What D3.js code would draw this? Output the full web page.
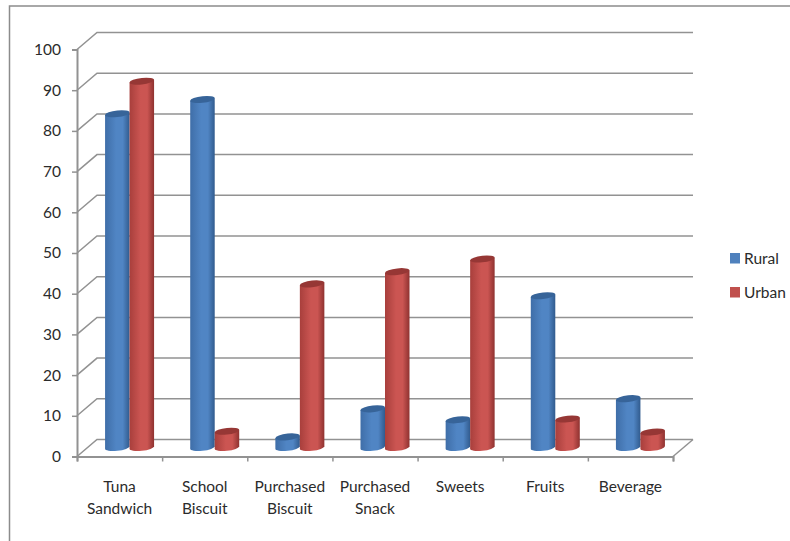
<!DOCTYPE html>
<html>
<head>
<meta charset="utf-8">
<script src="https://cdn.jsdelivr.net/npm/d3@7"></script>
<style>
    html, body { margin: 0; padding: 0; background: #fff; }
    svg { display: block; }
    text { font-family: Lato, "Open Sans", sans-serif; fill: #2b2b2b; }
</style>
</head>
<body>
<svg id="chart" width="790" height="541"></svg>
<script>
const categories = [
    ["Tuna", "Sandwich"],
    ["School", "Biscuit"],
    ["Purchased", "Biscuit"],
    ["Purchased", "Snack"],
    ["Sweets"],
    ["Fruits"],
    ["Beverage"]
];
const rural = [82, 85.5, 2.6, 9.5, 6.8, 37.3, 12];
const urban = [90, 4, 40.2, 43.2, 46.3, 7, 3.8];
const yTicks = d3.range(0, 101, 10);
const seriesNames = ["Rural", "Urban"];

const svg = d3.select("#chart");
const gridColor = "#929292";
const depthX = 20, depthY = 17;

const xScale = d3.scaleBand().domain(d3.range(categories.length)).range([77, 673]);
const yScale = d3.scaleLinear().domain([0, 100]).range([456.5, 49.5]);

// outer border, open on the right and bottom
svg.append("path")
    .attr("d", "M790,6H9.5V541")
    .attr("fill", "none")
    .attr("stroke", "#8c8c8c")
    .attr("stroke-width", 1.5);

// horizontal gradients give the bars their round look
const defs = svg.append("defs");
function addGradient(id, edgeL, mid, edgeR) {
    const g = defs.append("linearGradient").attr("id", id);
    g.append("stop").attr("offset", "0%").attr("stop-color", edgeL);
    g.append("stop").attr("offset", "45%").attr("stop-color", mid);
    g.append("stop").attr("offset", "72%").attr("stop-color", mid);
    g.append("stop").attr("offset", "100%").attr("stop-color", edgeR);
}
addGradient("grad-rural", "#3f6ea8", "#5085c4", "#315b8e");
addGradient("grad-urban", "#a83f3c", "#cb5552", "#8f3230");

// back wall gridlines and their diagonals on the side wall
const grid = svg.append("g")
    .attr("fill", "none")
    .attr("stroke", gridColor)
    .attr("stroke-width", 1.5);

yTicks.forEach(t => {
    const y = yScale(t);
    const x0 = xScale.range()[0];
    const x1 = xScale.range()[1];
    grid.append("path")
        .attr("d", `M${x0},${y}L${x0 + depthX},${y - depthY}H${x1 + depthX}`);
});
grid.append("path")
    .attr("d", `M${xScale.range()[1]},${yScale(0)}L${xScale.range()[1] + depthX},${yScale(0) - depthY}`);

// y axis
const yAxis = d3.axisLeft(yScale).tickValues(yTicks).tickSize(5).tickPadding(11);
const yG = svg.append("g")
    .attr("transform", "translate(77,0)")
    .call(yAxis);

// x axis, ticks sit on band edges
const xAxisScale = d3.scaleLinear().domain([0, categories.length]).range(xScale.range());
const xG = svg.append("g")
    .attr("transform", `translate(0,${yScale(0)})`)
    .call(d3.axisBottom(xAxisScale).tickValues(d3.range(categories.length + 1)).tickSize(5).tickFormat(""));

[yG, xG].forEach(g => {
    g.select(".domain").attr("stroke", gridColor).attr("stroke-width", 2);
    g.selectAll(".tick line").attr("stroke", gridColor).attr("stroke-width", 1.5);
});
yG.selectAll("text").attr("font-size", 15.5).style("font-family", "Lato").style("fill", "#2b2b2b");

// cylinders, skewed a little so the caps tilt upward to the right
const barW = 24.5;
const ry = 3.3;
const floorShift = 9;
const barOffset = depthX / 2;
const tilt = -6;

function drawBars(values, cls, gradId, topColor, side) {
    const g = svg.append("g").attr("class", cls);
    const group = g.selectAll("g").data(values).join("g")
        .attr("transform", (d, i) => {
            const cx = xScale(i) + xScale.bandwidth() / 2 + barOffset;
            return `translate(${cx + side * barW / 2},${yScale(d) - floorShift}) skewY(${tilt})`;
        });
    group.append("path")
        .attr("fill", `url(#${gradId})`)
        .attr("d", d => {
            const h = yScale(0) - yScale(d);
            return `M${-barW / 2},0V${h}` +
                `A${barW / 2},${ry} 0 0 0 ${barW / 2},${h}V0Z`;
        });
    group.append("ellipse")
        .attr("rx", barW / 2)
        .attr("ry", ry)
        .attr("fill", topColor);
}

drawBars(rural, "rural", "grad-rural", "#376499", -1);
drawBars(urban, "urban", "grad-urban", "#963735", 1);

// category labels
const labels = svg.append("g").attr("text-anchor", "middle").attr("font-size", 15.5);
categories.forEach((lines, i) => {
    const cx = xScale(i) + xScale.bandwidth() / 2;
    const t = labels.append("text")
        .attr("x", cx)
        .attr("y", 491.5);
    lines.forEach((line, j) => {
        t.append("tspan")
            .attr("x", cx)
            .attr("dy", j === 0 ? 0 : 22)
            .text(line);
    });
});

// legend
const legendY = d3.scalePoint().domain(seriesNames).range([258, 292]);
const legendColor = d3.scaleOrdinal().domain(seriesNames).range(["#4f81bd", "#c0504d"]);
const legend = svg.append("g").selectAll("g").data(seriesNames).join("g")
    .attr("transform", d => `translate(730,${legendY(d)})`);
legend.append("rect")
    .attr("x", 0).attr("y", -5)
    .attr("width", 10).attr("height", 10.5)
    .attr("fill", d => legendColor(d));
legend.append("text")
    .attr("x", 14).attr("y", 5.5)
    .attr("font-size", 15.5)
    .text(d => d);
</script>
</body>
</html>
